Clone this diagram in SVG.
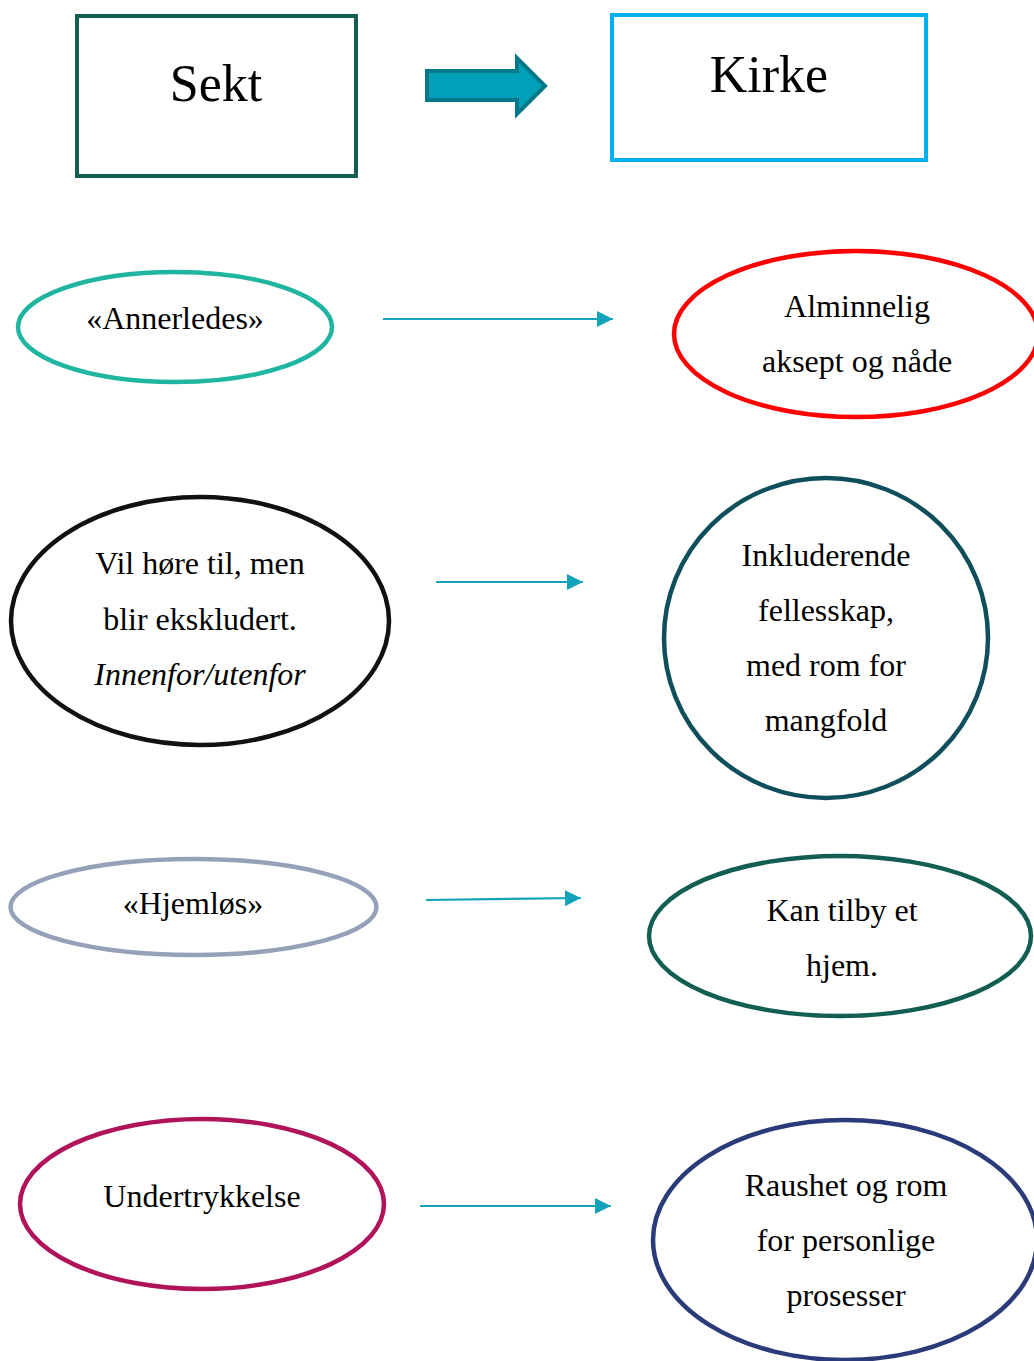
<svg xmlns="http://www.w3.org/2000/svg" width="1034" height="1361" viewBox="0 0 1034 1361">
<style>
text{font-family:"Liberation Serif","Times New Roman",serif;fill:#000;text-anchor:middle}
.t{font-size:32px}
.big{font-size:52px}
.n{fill:none;stroke-width:4.5}
.c{stroke:#12a3bb;stroke-width:2.2;fill:none}
</style>
<defs>
<marker id="ah2" viewBox="0 0 16 16" refX="16" refY="8" markerWidth="16" markerHeight="16" markerUnits="userSpaceOnUse" orient="auto">
<path d="M0,0 L16,8 L0,16 Z" fill="#12a3bb"/>
</marker>
</defs>
<rect width="1034" height="1361" fill="#fff"/>
<g id="sekt">
<rect x="77" y="16" width="279" height="160" fill="none" stroke="#135e52" stroke-width="4"/>
<text class="big" x="216" y="101">Sekt</text>
</g>
<g id="kirke">
<rect x="612" y="15" width="314" height="145" fill="none" stroke="#00b0f0" stroke-width="4"/>
<text class="big" x="769" y="92">Kirke</text>
</g>
<g id="connectors">
<path d="M427,71 L517,71 L517,58 L545,86 L517,114 L517,100 L427,100 Z" fill="#00a0b8" stroke="#00788a" stroke-width="4" stroke-linejoin="miter"/>
<line class="c" x1="383" y1="319" x2="613" y2="319" marker-end="url(#ah2)"/>
<line class="c" x1="436" y1="582" x2="583" y2="582" marker-end="url(#ah2)"/>
<line class="c" x1="426" y1="900" x2="581" y2="898" marker-end="url(#ah2)"/>
<line class="c" x1="420" y1="1206" x2="611" y2="1206" marker-end="url(#ah2)"/>
</g>
<g id="annerledes">
<ellipse class="n" cx="175" cy="327" rx="157" ry="55" stroke="#1fb5a0"/>
<text class="t" x="175" y="329">«Annerledes»</text>
</g>
<g id="alminnelig">
<ellipse class="n" cx="856" cy="334" rx="182" ry="83" stroke="#ff0000"/>
<text class="t" x="857" y="317">Alminnelig</text>
<text class="t" x="857" y="372">aksept og nåde</text>
</g>
<g id="vilhore">
<ellipse class="n" cx="200" cy="621" rx="189" ry="124" stroke="#111111" stroke-width="5"/>
<text class="t" x="200" y="574">Vil høre til, men</text>
<text class="t" x="200" y="630">blir ekskludert.</text>
<text class="t" x="200" y="685" font-style="italic">Innenfor/utenfor</text>
</g>
<g id="inkluderende">
<ellipse class="n" cx="826" cy="638" rx="162" ry="160" stroke="#0f4f5c"/>
<text class="t" x="826" y="566">Inkluderende</text>
<text class="t" x="826" y="621">fellesskap,</text>
<text class="t" x="826" y="676">med rom for</text>
<text class="t" x="826" y="731">mangfold</text>
</g>
<g id="hjemlos">
<ellipse class="n" cx="193.5" cy="907" rx="183" ry="48" stroke="#94a1b8"/>
<text class="t" x="193" y="914">«Hjemløs»</text>
</g>
<g id="kantilby">
<ellipse class="n" cx="840" cy="936" rx="191" ry="80" stroke="#135e52"/>
<text class="t" x="842" y="921">Kan tilby et</text>
<text class="t" x="842" y="976">hjem.</text>
</g>
<g id="undertrykkelse">
<ellipse class="n" cx="202" cy="1204" rx="182" ry="85" stroke="#b0135a"/>
<text class="t" x="202" y="1207">Undertrykkelse</text>
</g>
<g id="raushet">
<ellipse class="n" cx="845" cy="1240" rx="192" ry="120" stroke="#2b3a78"/>
<text class="t" x="846" y="1196">Raushet og rom</text>
<text class="t" x="846" y="1251">for personlige</text>
<text class="t" x="846" y="1306">prosesser</text>
</g>
</svg>
